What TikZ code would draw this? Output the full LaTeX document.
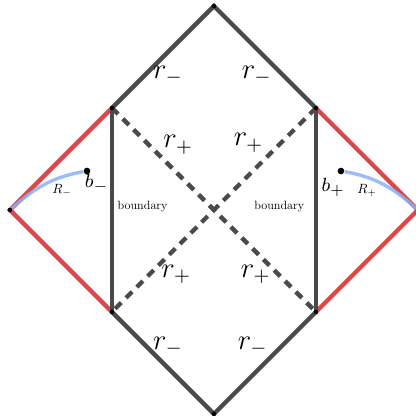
\documentclass[tikz,border=0pt]{standalone}
\usepackage{graphicx}
\usetikzlibrary{positioning}
\definecolor{hull}{HTML}{4A4A4A}
\definecolor{ember}{HTML}{D9484B}
\definecolor{sky}{HTML}{8AB0F7}
\newcommand{\shrink}[1]{\scalebox{.5}{#1}}
\tikzset{
  edge/.style  ={draw=hull,  line width=1.8pt},
  horiz/.style ={draw=hull,  line width=1.8pt, dash pattern=on 3.6pt off 2.8pt},
  wedge/.style ={draw=ember, line width=1.8pt},
  geo/.style   ={draw=sky,   line width=1.4pt, opacity=.85},
  vtx/.style   ={circle, fill=black, inner sep=0pt, minimum size=1.9pt},
  endpt/.style ={circle, fill=black, inner sep=0pt, minimum size=2.8pt},
  rlbl/.style  ={font=\large},
  blbl/.style  ={font=\footnotesize},
  tlbl/.style  ={font=\normalsize, inner sep=1pt},
}

\begin{document}
\begin{tikzpicture}[x=1.5cm,y=1.5cm]
    \useasboundingbox (-2.098,-2.02) rectangle (1.98,2.059);

    \coordinate (top) at (0,2);
    \coordinate (bot) at (0,-2);
    \coordinate (lft) at (-2,0);
    \coordinate (rgt) at (2,0);
    \coordinate (tl) at (-1,1);
    \coordinate (tr) at (1,1);
    \coordinate (bl) at (-1,-1);
    \coordinate (br) at (1,-1);

    \draw[wedge] (tl) -- (lft) -- (bl);
    \draw[wedge] (tr) -- (rgt) -- (br);

    \draw[horiz] (tl) -- (br);
    \draw[horiz] (tr) -- (bl);

    \draw[edge] (tl) -- (top) -- (tr);
    \draw[edge] (bl) -- (bot) -- (br);
    \draw[edge] (tl) -- (bl);
    \draw[edge] (tr) -- (br);

    \node[endpt] (bm) at (-1.245,0.382) {};
    \node[endpt] (bp) at (1.245,0.382) {};
    \draw[geo] (lft) to[out=42,in=190] (bm);
    \draw[geo] (rgt) to[out=138,in=-10] (bp);

    \foreach \v in {top,bot,lft,rgt,tl,tr,bl,br}
      \node[vtx] (d\v) at (\v) {};

    \node[rlbl] (rmtl) at (-0.45,1.32) {$r_-$};
    \node[rlbl] (rmtr) at (0.42,1.32) {$r_-$};
    \node[rlbl] (rmbl) at (-0.45,-1.34) {$r_-$};
    \node[rlbl] (rmbr) at (0.38,-1.34) {$r_-$};
    \node[rlbl] (rptl) at (-0.35,0.64) {$r_+$};
    \node[rlbl] (rptr) at (0.34,0.66) {$r_+$};
    \node[rlbl] (rpbl) at (-0.37,-0.63) {$r_+$};
    \node[rlbl] (rpbr) at (0.41,-0.63) {$r_+$};

    \node[blbl] (bmlbl) at (-1.15,0.26) {$b_-$};
    \node[blbl] (bplbl) at (1.17,0.22) {$b_+$};
    \node[tlbl] (Rmlbl) at (-1.49,0.19) {\scalebox{.56}{$R_-$}};
    \node[tlbl] (Rplbl) at (1.50,0.19) {\scalebox{.56}{$R_+$}};

    \node[tlbl] (bdl) at (-0.70,0.03) {\shrink{boundary}};
    \node[tlbl] (bdr) at (0.64,0.03) {\shrink{boundary}};
  \end{tikzpicture}
\end{document}
